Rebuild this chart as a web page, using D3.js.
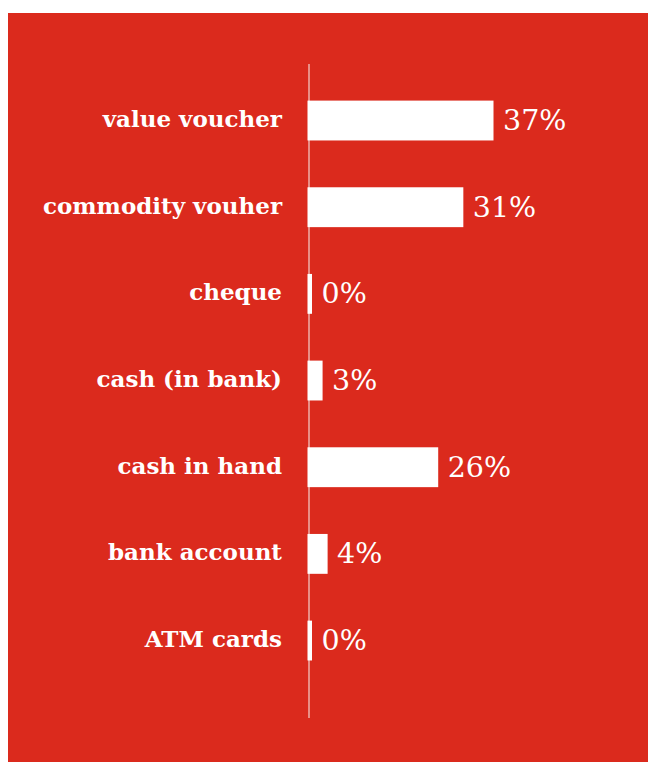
<!DOCTYPE html>
<html>
<head>
<meta charset="utf-8">
<script src="https://cdn.jsdelivr.net/npm/d3@7"></script>
<style>
  html, body { margin: 0; padding: 0; background: #ffffff; }
  svg { display: block; }
</style>
</head>
<body>
<svg id="chart" width="648" height="762"></svg>
<script>
// Payment methods and their share (%)
const categories = ["value voucher", "commodity vouher", "cheque", "cash (in bank)", "cash in hand", "bank account", "ATM cards"];
const shares = [37, 31, 0, 3, 26, 4, 0];
const valueLabels = ["37%", "31%", "0%", "3%", "26%", "4%", "0%"];

const W = 648, H = 762;
const svg = d3.select("#chart");

// Red panel
svg.append("rect")
  .attr("x", 8).attr("y", 13)
  .attr("width", W - 8).attr("height", H - 13)
  .attr("fill", "#db2a1d");

const x0 = 307.5;
const x = d3.scaleLinear().domain([0, 37]).range([x0, x0 + 186]);
const y = d3.scaleBand().domain(categories).range([77.2, 77.2 + 86.67 * 7]).paddingInner(0.54).paddingOuter(0.27);

// Vertical baseline
svg.append("line")
  .attr("x1", 309).attr("x2", 309)
  .attr("y1", 64).attr("y2", 718)
  .attr("stroke", "#f3d3cf").attr("stroke-width", 1.2);

const minW = 4.5;
const data = categories.map((c, i) => ({ c, v: shares[i], t: valueLabels[i] }));

svg.selectAll("rect.bar").data(data).join("rect")
  .attr("class", "bar")
  .attr("x", x0)
  .attr("y", d => y(d.c))
  .attr("width", d => Math.max(x(d.v) - x0, minW))
  .attr("height", y.bandwidth())
  .attr("fill", "#ffffff");

// Category labels
svg.selectAll("text.cat").data(data).join("text")
  .attr("class", "cat")
  .attr("x", 282)
  .attr("y", d => y(d.c) + y.bandwidth() / 2 + 6.5)
  .attr("text-anchor", "end")
  .attr("fill", "#ffffff")
  .style("font-family", "'DejaVu Serif', serif")
  .style("font-weight", "bold")
  .style("font-size", "23px")
  .text(d => d.c);

// Value labels
svg.selectAll("text.val").data(data).join("text")
  .attr("class", "val")
  .attr("x", d => x0 + Math.max(x(d.v) - x0, minW) + 9.5)
  .attr("y", d => y(d.c) + y.bandwidth() / 2 + 9.5)
  .attr("fill", "#ffffff")
  .style("font-family", "'DejaVu Serif', serif")
  .style("font-weight", "300")
  .style("font-size", "28.5px")
  .text(d => d.t);
</script>
</body>
</html>
